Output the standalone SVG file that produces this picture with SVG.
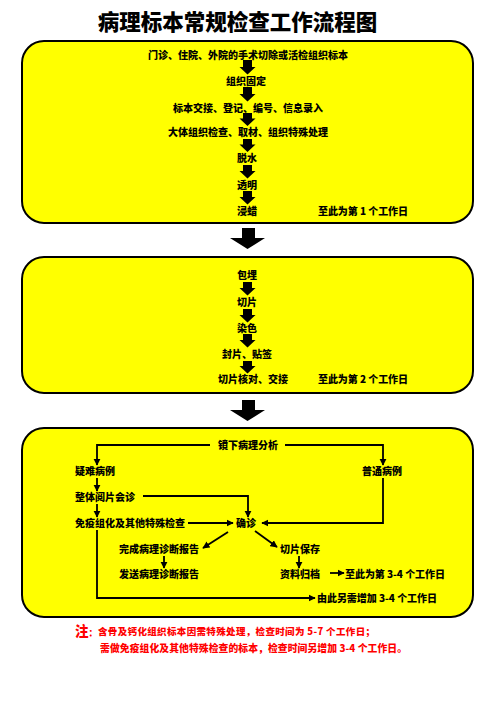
<svg xmlns="http://www.w3.org/2000/svg" width="496" height="702" viewBox="0 0 496 702">
<defs>
<style>
.box{fill:#ffff00;stroke:#000;stroke-width:2}
text{font-family:"Noto Sans CJK SC","Noto Sans CJK JP",sans-serif;font-weight:900;fill:#000}
.t{font-size:10px}
.c{text-anchor:middle}
.title{font-size:21.5px;text-anchor:middle}
.red{fill:#ff0000}
.blk{fill:#000}
.ln{fill:none;stroke:#000;stroke-width:1.8;marker-end:url(#ah)}
</style>
<marker id="ah" viewBox="0 0 10 10" refX="9" refY="5" markerWidth="4" markerHeight="4" orient="auto" markerUnits="strokeWidth">
<path d="M0,0 L10,5 L0,10 z" fill="#000"/>
</marker>
</defs>
<rect width="496" height="702" fill="#fff"/>
<text class="title" x="237.5" y="29.5">病理标本常规检查工作流程图</text>

<g id="stage1">
<rect class="box" x="22" y="41" width="451" height="182" rx="22" ry="22"/>
<text class="t c" x="248" y="59">门诊、住院、外院的手术切除或活检组织标本</text>
<text class="t c" x="246" y="85">组织固定</text>
<text class="t c" x="248" y="112">标本交接、登记、编号、信息录入</text>
<text class="t c" x="248" y="136">大体组织检查、取材、组织特殊处理</text>
<text class="t c" x="247" y="162">脱水</text>
<text class="t c" x="247" y="189">透明</text>
<text class="t c" x="247" y="215">浸蜡</text>
<text class="t" x="318" y="215" textLength="90" lengthAdjust="spacing">至此为第 1 个工作日</text>
</g>

<g id="stage2">
<rect class="box" x="22" y="257" width="451" height="136" rx="22" ry="22"/>
<text class="t c" x="247" y="279">包埋</text>
<text class="t c" x="247" y="306">切片</text>
<text class="t c" x="247" y="332">染色</text>
<text class="t c" x="247" y="358">封片、贴签</text>
<text class="t" x="218" y="383">切片核对、交接</text>
<text class="t" x="318" y="383" textLength="90" lengthAdjust="spacing">至此为第 2 个工作日</text>
</g>

<g id="stage3">
<rect class="box" x="22" y="428" width="451" height="189" rx="22" ry="22"/>
<text class="t c" x="248" y="449">镜下病理分析</text>
<text class="t" x="75" y="475">疑难病例</text>
<text class="t" x="362" y="475">普通病例</text>
<text class="t" x="75" y="501">整体阅片会诊</text>
<text class="t" x="75" y="527">免疫组化及其他特殊检查</text>
<text class="t c" x="246" y="527">确诊</text>
<text class="t" x="119" y="553">完成病理诊断报告</text>
<text class="t" x="280" y="553">切片保存</text>
<text class="t" x="119" y="578">发送病理诊断报告</text>
<text class="t" x="280" y="578">资料归档</text>
<text class="t" x="345" y="578" textLength="100" lengthAdjust="spacing">至此为第 3-4 个工作日</text>
<text class="t" x="317" y="602" textLength="120" lengthAdjust="spacing">由此另需增加 3-4 个工作日</text>
</g>

<g id="block-arrows" class="blk">
<path d="M243,60 h9 v7 h3.5 l-8,7.5 l-8,-7.5 h3.5 z"/>
<path d="M243,87 h9 v7 h3.5 l-8,7.5 l-8,-7.5 h3.5 z"/>
<path d="M243,113 h9 v5.5 h3.5 l-8,7.5 l-8,-7.5 h3.5 z"/>
<path d="M243,139 h9 v5.5 h3.5 l-8,7.5 l-8,-7.5 h3.5 z"/>
<path d="M243,165 h9 v6 h3.5 l-8,7.5 l-8,-7.5 h3.5 z"/>
<path d="M243,191 h9 v6 h3.5 l-8,7.5 l-8,-7.5 h3.5 z"/>
<path d="M243,282 h9 v6 h3.5 l-8,7.5 l-8,-7.5 h3.5 z"/>
<path d="M243,309 h9 v6 h3.5 l-8,7.5 l-8,-7.5 h3.5 z"/>
<path d="M243,334 h9 v6 h3.5 l-8,7.5 l-8,-7.5 h3.5 z"/>
<path d="M243,361 h9 v5 h3.5 l-8,7.5 l-8,-7.5 h3.5 z"/>
<path d="M242,228 h13 v10 h10 l-17.5,11 l-17.5,-11 h12 z"/>
<path d="M242,400 h13 v10 h10 l-17.5,11 l-17.5,-11 h12 z"/>
</g>

<g id="connectors">
<path class="ln" d="M210,445 H97 V465"/>
<path class="ln" d="M285,445 H383 V465"/>
<path class="ln" d="M97,478 V491"/>
<path class="ln" d="M143,496 H248 V517"/>
<path class="ln" d="M97,504 V517"/>
<path class="ln" d="M188,523 H233"/>
<path class="ln" d="M383,478 V523 H262"/>
<path class="ln" d="M228,532 L203,548"/>
<path class="ln" d="M255,531 L277,547"/>
<path class="ln" d="M164,556 V568"/>
<path class="ln" d="M299,556 V568"/>
<path class="ln" d="M330,573 H344"/>
<path class="ln" d="M97,530 V598 H315"/>
</g>

<g id="notes">
<text class="red" x="75" y="636" font-size="13.5">注<tspan font-size="9">：</tspan></text>
<text class="red" x="98" y="635" font-size="9.5" textLength="277" lengthAdjust="spacing">含骨及钙化组织标本因需特殊处理，检查时间为 5-7 个工作日；</text>
<text class="red" x="100" y="652" font-size="9.8" textLength="307" lengthAdjust="spacing">需做免疫组化及其他特殊检查的标本，检查时间另增加 3-4 个工作日。</text>
</g>
</svg>
